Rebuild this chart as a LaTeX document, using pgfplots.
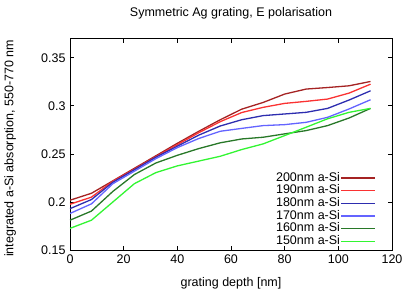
\documentclass[border=0pt]{standalone}
\usepackage{pgfplots}
\pgfplotsset{compat=1.18}
\usepackage{fontspec}
\setmainfont{Liberation Sans}
\definecolor{c200}{RGB}{165,35,35}
\definecolor{c190}{RGB}{250,50,50}
\definecolor{c180}{RGB}{45,45,175}
\definecolor{c170}{RGB}{100,100,255}
\definecolor{c160}{RGB}{40,120,40}
\definecolor{c150}{RGB}{50,245,50}
\begin{document}
\begin{tikzpicture}
\begin{axis}[
  at={(0,0)}, anchor=south west,
  scale only axis, width=322bp, height=211.5bp,
  xmin=0, xmax=120, ymin=0.15, ymax=0.37,
  xtick={0,20,...,120},
  ytick={0.15,0.2,0.25,0.3,0.35},
  yticklabels={0.15,0.2,0.25,0.3,0.35},
  /pgf/number format/assume math mode=true,
  font=\fontsize{12.5bp}{15bp}\selectfont,
  tick label style={font=\fontsize{12.5bp}{15bp}\selectfont},
  major tick length=4.5bp,
  tick style={black, line width=0.6bp},
  axis line style={line width=0.8bp},
  xticklabel style={yshift=-1bp},
  yticklabel style={xshift=-1bp},
  title={Symmetric Ag grating, E polarisation},
  title style={at={(axis description cs:0.5,1)}, anchor=center, yshift=19.5bp},
  xlabel={grating depth [nm]},
  ylabel={integrated a-Si absorption, 550-770 nm},
  xlabel style={at={(axis description cs:0.5,0)}, anchor=center, yshift=-33bp},
  ylabel style={at={(axis description cs:-0.186,0.48)}, anchor=center, rotate=0},
  legend plot pos=right,
  legend cell align=right,
  legend style={draw=none, fill=none, at={(axis description cs:1,0)}, anchor=south east,
    xshift=-13bp, yshift=0bp, row sep=0pt,
    font=\fontsize{12.5bp}{15bp}\selectfont,
    nodes={inner sep=0.5pt, text height=9bp, text depth=2.7bp}},
  legend image code/.code={\draw[#1] (0bp,0bp) -- (34bp,0bp);},
  every axis plot/.append style={line width=1.3bp, no markers},
]
\addplot[c200] coordinates {(0,0.2018) (8,0.209) (16,0.222) (24,0.235) (32,0.248) (40,0.261) (48,0.2735) (56,0.2855) (64,0.2965) (72,0.3035) (80,0.3122) (88,0.3174) (96,0.319) (104,0.3208) (112,0.3253)};
\addlegendentry{200nm a-Si}
\addplot[c190] coordinates {(0,0.1976) (8,0.205) (16,0.2215) (24,0.234) (32,0.247) (40,0.2595) (48,0.272) (56,0.2835) (64,0.293) (72,0.2984) (80,0.3025) (88,0.3046) (96,0.307) (104,0.3132) (112,0.3225)};
\addlegendentry{190nm a-Si}
\addplot[c180] coordinates {(0,0.193) (8,0.2025) (16,0.2205) (24,0.2335) (32,0.2465) (40,0.258) (48,0.2695) (56,0.279) (64,0.2855) (72,0.2898) (80,0.2915) (88,0.2932) (96,0.2973) (104,0.306) (112,0.3156)};
\addlegendentry{180nm a-Si}
\addplot[c170] coordinates {(0,0.188) (8,0.198) (16,0.219) (24,0.232) (32,0.245) (40,0.2565) (48,0.266) (56,0.2735) (64,0.2765) (72,0.2794) (80,0.2804) (88,0.2828) (96,0.288) (104,0.2967) (112,0.3063)};
\addlegendentry{170nm a-Si}
\addplot[c160] coordinates {(0,0.181) (8,0.1905) (16,0.211) (24,0.2285) (32,0.2405) (40,0.2485) (48,0.2555) (56,0.2615) (64,0.2655) (72,0.2673) (80,0.2708) (88,0.2742) (96,0.2794) (104,0.2873) (112,0.2973)};
\addlegendentry{160nm a-Si}
\addplot[c150] coordinates {(0,0.1725) (8,0.181) (16,0.2) (24,0.219) (32,0.2305) (40,0.2375) (48,0.2425) (56,0.2475) (64,0.2545) (72,0.2604) (80,0.269) (88,0.2777) (96,0.2865) (104,0.2932) (112,0.2973)};
\addlegendentry{150nm a-Si}
\end{axis}
\pgfresetboundingbox
\path[use as bounding box] (-70bp,-41bp) rectangle (345bp,250bp);
\end{tikzpicture}
\end{document}
